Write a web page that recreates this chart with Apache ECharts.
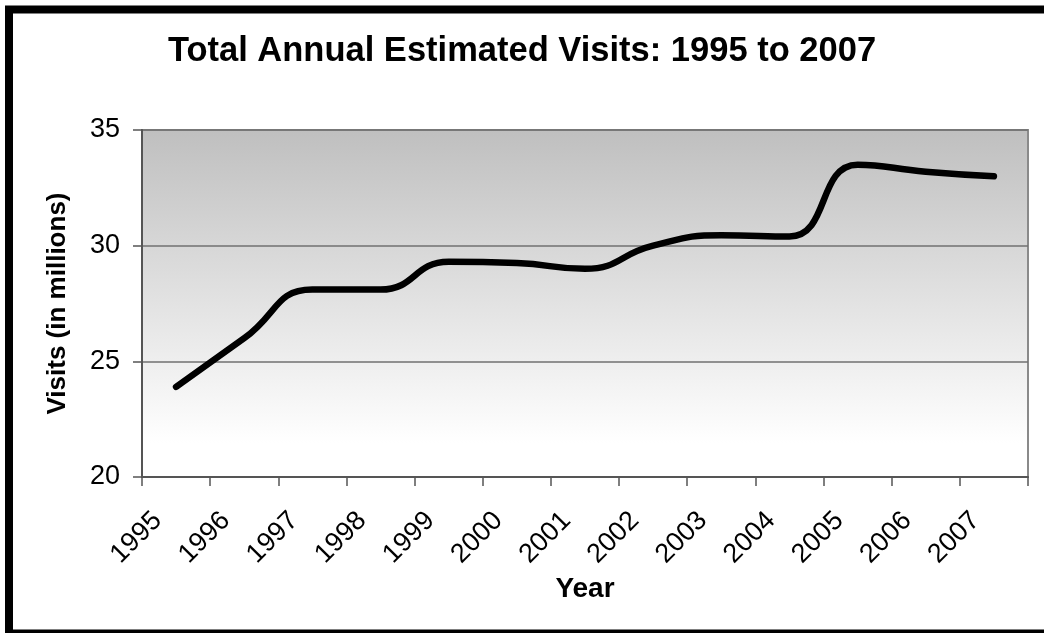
<!DOCTYPE html>
<html>
<head>
<meta charset="utf-8">
<script src="https://cdn.jsdelivr.net/npm/echarts@6/dist/echarts.min.js"></script>
<style>
html,body{margin:0;padding:0;background:#fff;}
#chart{width:1044px;height:633px;}
</style>
</head>
<body>
<div id="chart"></div>
<script>
var years = ['1995','1996','1997','1998','1999','2000','2001','2002','2003','2004','2005','2006','2007'];
var visits = [23.9, 26.0, 28.1, 28.1, 29.3, 29.25, 29.0, 30.0, 30.45, 30.4, 33.5, 33.2, 33.0];
var yTicks = [20, 25, 30, 35];

var FONT = '"Liberation Sans", Arial, sans-serif';
var chart = echarts.init(document.getElementById('chart'));
chart.setOption({
  animation: false,
  backgroundColor: '#ffffff',
  title: {
    text: 'Total Annual Estimated Visits: 1995 to 2007',
    left: 'center',
    top: 29,
    padding: [5, 0, 5, 16],
    textStyle: {fontFamily: FONT, fontSize: 34.5, fontWeight: 'bold', color: '#000'}
  },
  graphic: [{
    type: 'rect',
    shape: {x: 9, y: 9.5, width: 1045, height: 624},
    style: {fill: 'none', stroke: '#000', lineWidth: 8},
    z: 100
  }],
  grid: {
    left: 142, right: 16, top: 130, bottom: 156,
    show: true,
    borderColor: '#8a8a8a',
    borderWidth: 2,
    backgroundColor: new echarts.graphic.LinearGradient(0, 0, 0, 1, [
      {offset: 0, color: '#bfbfbf'},
      {offset: 0.9, color: '#ffffff'},
      {offset: 1, color: '#ffffff'}
    ])
  },
  xAxis: {
    type: 'category',
    data: years,
    boundaryGap: true,
    name: 'Year',
    nameLocation: 'middle',
    nameGap: 96,
    nameTextStyle: {fontFamily: FONT, fontSize: 28, fontWeight: 'bold', color: '#000'},
    axisLine: {show: true, lineStyle: {color: '#555', width: 2}},
    axisTick: {show: true, inside: false, length: 9, interval: 0, lineStyle: {color: '#555', width: 1.5}},
    axisLabel: {
      interval: 0, rotate: 45, margin: 21,
      fontFamily: FONT, fontSize: 27, color: '#000',
      formatter: function (v) { return '{t|' + v + '}{s| }'; },
      rich: {
        t: {fontFamily: FONT, fontSize: 27, color: '#000'},
        s: {width: 26, fontSize: 27}
      }
    },
    splitLine: {show: false}
  },
  yAxis: {
    type: 'value',
    min: yTicks[0], max: yTicks[yTicks.length - 1], interval: 5,
    name: 'Visits (in millions)',
    nameLocation: 'middle',
    nameGap: 71,
    nameTextStyle: {fontFamily: FONT, fontSize: 26, fontWeight: 'bold', color: '#000'},
    axisLine: {show: true, lineStyle: {color: '#555', width: 2}},
    axisTick: {show: true, inside: false, length: 9, lineStyle: {color: '#555', width: 1.5}},
    axisLabel: {margin: 22, fontFamily: FONT, fontSize: 27, color: '#000'},
    splitLine: {show: true, lineStyle: {color: '#707070', width: 1.5}}
  },
  series: [{
    type: 'line',
    data: visits,
    smooth: 0.5,
    symbol: 'none',
    lineStyle: {color: '#000', width: 6.5, cap: 'round', join: 'round'}
  }]
});
</script>
</body>
</html>
